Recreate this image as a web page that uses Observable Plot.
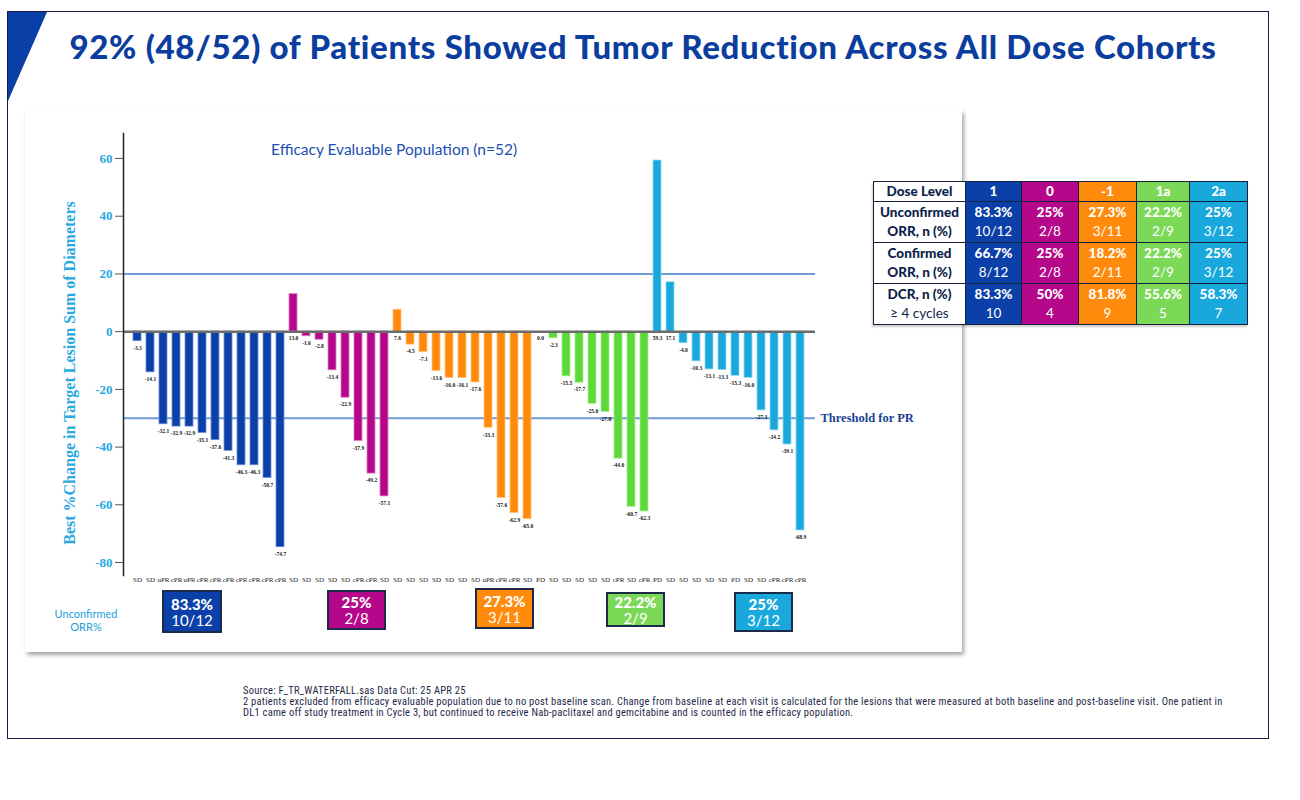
<!DOCTYPE html>
<html>
<head>
<meta charset="utf-8">
<script src="https://cdn.jsdelivr.net/npm/d3@7"></script>
<script src="https://cdn.jsdelivr.net/npm/@observablehq/plot@0.6"></script>
<style>
  html, body { margin: 0; padding: 0; background: #fff; }
  body { width: 1300px; height: 800px; position: relative; overflow: hidden; font-family: Lato, "Noto Sans", sans-serif; }
  #frame { position: absolute; left: 7px; top: 11px; width: 1262px; height: 728px; border: 1px solid #1b1b4a; box-sizing: border-box; }
  #tri { position: absolute; left: 8px; top: 12px; width: 40px; height: 90px; }
  #title { position: absolute; left: 0; top: 26px; width: 1286px; text-align: center; font-family: Lato, sans-serif; font-weight: 900; font-size: 33px; letter-spacing: 0.7px; color: #0b3d9e; white-space: nowrap; }
  #panel { position: absolute; left: 25px; top: 110px; width: 937px; height: 542px; background: #fff; box-shadow: 2px 3px 4px rgba(0,0,0,0.35); }
  #chart { position: absolute; left: 0; top: 0; }
  #ylab { position: absolute; left: 70px; top: 373px; transform: translate(-50%, -50%) rotate(-90deg); white-space: nowrap; font-family: "Liberation Serif", serif; font-weight: bold; font-size: 16px; color: #2aa9e0; }
  #popn { position: absolute; left: 271px; top: 140px; font-family: Lato, sans-serif; font-size: 15.5px; color: #1c4fb0; white-space: nowrap; }
  #uorr { position: absolute; left: 50px; top: 607px; width: 72px; text-align: center; font-family: Lato, sans-serif; font-size: 11px; line-height: 13px; color: #1aa0d8; }
  .box { position: absolute; border: 2px solid #1b2a4a; box-sizing: border-box; color: #fff; text-align: center; font-family: Lato, sans-serif;
         display: flex; flex-direction: column; justify-content: center; }
  .box .p { font-weight: 900; font-size: 15px; line-height: 16px; }
  .box .f { font-size: 15px; line-height: 16px; }
  #tbl { position: absolute; left: 873px; top: 181px; border-collapse: collapse; table-layout: fixed; width: 374px; font-family: Lato, sans-serif; box-shadow: -1px 2px 2px rgba(0,0,0,0.2); }
  #tbl td { border: 1.5px solid #14213d; text-align: center; padding: 0; color: #fff; font-size: 13.5px; line-height: 19px; overflow: hidden; white-space: nowrap; }
  #tbl td.lab { background: #fff; color: #0d1f4a; }
  #tbl .b { font-weight: 900; }
  #foot { position: absolute; left: 243px; top: 685px; font-family: "Liberation Sans Narrow", "Roboto Condensed", Roboto, sans-serif; font-size: 10.5px; letter-spacing: 0.25px; line-height: 11px; color: #1e2a4a; width: 1010px; white-space: nowrap; }
</style>
</head>
<body>
<div id="frame"></div>
<svg id="tri" viewBox="0 0 40 90"><polygon points="0,0 39,0 0,89" fill="#0b3fa8"/></svg>
<div id="title">92% (48/52) of Patients Showed Tumor Reduction Across All Dose Cohorts</div>
<div id="panel"><div id="chart"></div></div>
<div id="ylab">Best %Change in Target Lesion Sum of Diameters</div>
<div id="popn">Efficacy Evaluable Population (n=52)</div>
<div id="uorr">Unconfirmed<br>ORR%</div>
<div id="boxes"></div>
<table id="tbl"></table>
<div id="foot">Source: F_TR_WATERFALL.sas Data Cut: 25 APR 25<br>2 patients excluded from efficacy evaluable population due to no post baseline scan. Change from baseline at each visit is calculated for the lesions that were measured at both baseline and post-baseline visit. One patient in<br>DL1 came off study treatment in Cycle 3, but continued to receive Nab-paclitaxel and gemcitabine and is counted in the efficacy population.</div>
<script>
// ---- Data ----
const doseLevels = ["1", "0", "-1", "1a", "2a"];
const doseColors = ["#0a40a8", "#b5078a", "#ff8a0c", "#5cd838", "#18a8dc"];
const doseStroke = ["#6f90d8", "#e07cc4", "#ffc27e", "#a6ee90", "#8fd8f2"];
const boxColors = ["#0a40a8", "#b5078a", "#ff8a0c", "#7bd957", "#18a8dc"];

const change1  = [-3.3, -14.1, -32.1, -32.9, -32.9, -35.1, -37.6, -41.3, -46.3, -46.3, -50.7, -74.7];
const change0  = [13.0, -1.6, -2.8, -13.4, -22.9, -37.9, -49.2, -57.1];
const changeM1 = [7.6, -4.5, -7.1, -13.6, -16.0, -16.1, -17.6, -33.3, -57.6, -62.9, -65.0];
const change1a = [0.0, -2.3, -15.5, -17.7, -25.0, -27.8, -44.0, -60.7, -62.3];
const change2a = [59.3, 17.1, -4.0, -10.3, -13.1, -13.3, -15.3, -16.0, -27.3, -34.2, -39.1, -68.9];

const resp1  = ["SD","SD","uPR","cPR","uPR","cPR","cPR","cPR","cPR","cPR","cPR","cPR"];
const resp0  = ["SD","SD","SD","SD","SD","cPR","cPR","SD"];
const respM1 = ["SD","SD","SD","SD","SD","SD","SD","uPR","cPR","cPR","SD"];
const resp1a = ["PD","SD","SD","SD","SD","SD","cPR","SD","cPR"];
const resp2a = ["PD","SD","SD","SD","SD","SD","PD","SD","SD","cPR","cPR","cPR"];

const yTicks = [60, 40, 20, 0, -20, -40, -60, -80];
const refLines = [20, -30];

const orrPct  = ["83.3%", "25%", "27.3%", "22.2%", "25%"];
const orrFrac = ["10/12", "2/8", "3/11", "2/9", "3/12"];
const corrPct  = ["66.7%", "25%", "18.2%", "22.2%", "25%"];
const corrFrac = ["8/12", "2/8", "2/11", "2/9", "3/12"];
const dcrPct  = ["83.3%", "50%", "81.8%", "55.6%", "58.3%"];
const dcrN    = ["10", "4", "9", "5", "7"];

// ---- Build table of bars ----
const groups = [change1, change0, changeM1, change1a, change2a];
const resps = [resp1, resp0, respM1, resp1a, resp2a];
const rows = [];
groups.forEach((g, gi) => g.forEach((v, j) => rows.push({
  i: rows.length, v, dose: doseLevels[gi], resp: resps[gi][j]
})));
const idx = rows.map(d => d.i);

const chart = Plot.plot({
  width: 937, height: 542,
  marginLeft: 98, marginRight: 147, marginTop: 23, marginBottom: 77,
  style: { background: "transparent", overflow: "visible" },
  x: { type: "band", domain: idx, range: [103.5, 783], paddingInner: 0.38, paddingOuter: 0.19, axis: null },
  y: { domain: [-84.5, 68.66], axis: null },
  color: { domain: doseLevels, range: doseColors },
  marks: [
    Plot.ruleY(refLines, { stroke: "#6e9ad6", strokeWidth: 2 }),
    Plot.barY(rows, { x: "i", y: "v", fill: "dose", stroke: d => doseStroke[doseLevels.indexOf(d.dose)], strokeWidth: 0.8 }),
    Plot.ruleY([0], { stroke: "#6b6b6b", strokeWidth: 2.5 }),
    Plot.frame({ anchor: "left", stroke: "#222", strokeWidth: 1.5 }),
    Plot.axisY({ ticks: yTicks, tickSize: 8, tickPadding: 3, tickFormat: d => d, stroke: "#555",
      fill: "#2aa9e0", fontSize: 13, fontWeight: "bold", fontFamily: "Liberation Serif", label: null }),
    Plot.text(rows, { x: "i", y: d => Math.min(d.v, 0), text: d => d.v.toFixed(1), dy: 7, fontSize: 5.5,
      fontWeight: "bold", fontFamily: "Liberation Serif", fill: "#111" }),
    Plot.axisX({ tickSize: 0, tickPadding: 2, tickFormat: i => rows[i].resp, fontSize: 7,
      fontFamily: "Liberation Serif", fill: "#222", label: null }),
    Plot.text([-30], { y: d => d, frameAnchor: "right", dx: 5, textAnchor: "start", text: () => "Threshold for PR",
      fontSize: 12.5, fontWeight: "bold", fontFamily: "Liberation Serif", fill: "#1c3f94" })
  ]
});
document.getElementById("chart").appendChild(chart);

// ---- ORR boxes ----
const boxPos = [[162, 590, 60, 43], [327, 590, 59, 40], [475, 588, 59, 41], [606, 592, 59, 35], [734, 592, 59, 40]];
const bx = document.getElementById("boxes");
boxPos.forEach((p, k) => {
  const el = document.createElement("div");
  el.className = "box";
  Object.assign(el.style, { left: p[0] + "px", top: p[1] + "px", width: p[2] + "px", height: p[3] + "px", background: boxColors[k] });
  el.innerHTML = `<div class="p">${orrPct[k]}</div><div class="f">${orrFrac[k]}</div>`;
  bx.appendChild(el);
});

// ---- Summary table ----
const tbl = document.getElementById("tbl");
const colW = [92, 56, 57, 58, 53, 58];
let html = `<colgroup>${colW.map(w => `<col style="width:${w}px">`).join("")}</colgroup>`;
html += `<tr style="height:20px"><td class="lab b">Dose Level</td>` +
  doseLevels.map((d, k) => `<td class="b" style="background:${boxColors[k]}">${d}</td>`).join("") + "</tr>";
const rowDefs = [
  ["<span class='b'>Unconfirmed</span><br><span class='b'>ORR, n (%)</span>", orrPct, orrFrac],
  ["<span class='b'>Confirmed</span><br><span class='b'>ORR, n (%)</span>", corrPct, corrFrac],
  ["<span class='b'>DCR, n (%)</span><br>≥ 4 cycles", dcrPct, dcrN]
];
rowDefs.forEach(([lab, a, b]) => {
  html += `<tr style="height:41px"><td class="lab">${lab}</td>` +
    a.map((v, k) => `<td style="background:${boxColors[k]}"><span class="b">${v}</span><br>${b[k]}</td>`).join("") + "</tr>";
});
tbl.innerHTML = html;
</script>
</body>
</html>
